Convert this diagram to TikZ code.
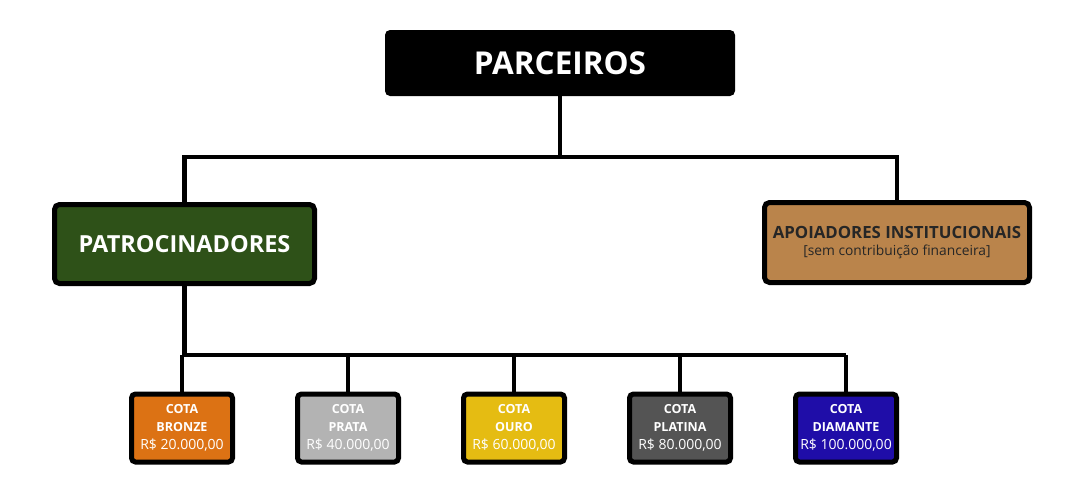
\documentclass[tikz,border=0pt]{standalone}
\usepackage{fontspec}
\setmainfont{Open Sans}
\usetikzlibrary{positioning,calc}
\definecolor{verde}{HTML}{2E5118}
\definecolor{marrom}{HTML}{BA844B}
\definecolor{bronze}{HTML}{DC7214}
\definecolor{prata}{HTML}{B3B3B3}
\definecolor{ouro}{HTML}{E5BC12}
\definecolor{platina}{HTML}{545454}
\definecolor{diamante}{HTML}{1F0DA8}

\begin{document}
\begin{tikzpicture}[x=1pt,y=-1pt,
  link/.style={line width=4.5pt, draw=black},
  topo/.style={fill=black, rounded corners=5pt, minimum width=350pt, minimum height=66pt, inner sep=0pt, text=white, font=\fontsize{31.5}{34}\selectfont\bfseries},
  grupo/.style={draw=black, line width=5pt, rounded corners=5pt, inner sep=0pt, align=center},
  cota/.style={draw=black, line width=5pt, rounded corners=4pt, minimum width=101pt, minimum height=68pt, inner sep=0pt, align=center, text=white, font=\fontsize{14}{18}\selectfont},
]
\useasboundingbox (0,0) rectangle (1080,493);
\node[topo] (parc) at (560,63) {PARCEIROS};
\node[grupo, fill=verde, minimum width=260pt, minimum height=79pt, text=white, font=\fontsize{23.5}{26}\selectfont\bfseries] (patr) at (184.5,244) {PATROCINADORES};
\node[grupo, fill=marrom, minimum width=265pt, minimum height=80pt, text=black!85] (apoi) at (897,242.5)
  {{\fontsize{16.8}{20}\selectfont\bfseries APOIADORES INSTITUCIONAIS}\\[5pt]{\fontsize{13.8}{16}\selectfont [sem contribuição financeira]}};
\coordinate (top) at (560,157);
\coordinate (bus) at (184.5,355);
% cotas
\foreach \nome/\cor/\valor [count=\i from 0] in {BRONZE/bronze/{20.000,00}, PRATA/prata/{40.000,00}, OURO/ouro/{60.000,00}, PLATINA/platina/{80.000,00}, DIAMANTE/diamante/{100.000,00}}{
  \node[cota, fill=\cor] (c\i) at (182+166*\i,428)
    {{\bfseries\fontsize{12.5}{18}\selectfont COTA}\\{\bfseries\fontsize{12.5}{18}\selectfont \nome}\\R\$ \valor};
  \draw[link] (c\i.north) -- (c\i.north |- bus);
}
\draw[link] (parc.south) -- (top);
\draw[link] (patr.north) |- (top) -| (apoi.north);
\draw[link] (patr.south) |- (c4.north |- bus);
\end{tikzpicture}
\end{document}
